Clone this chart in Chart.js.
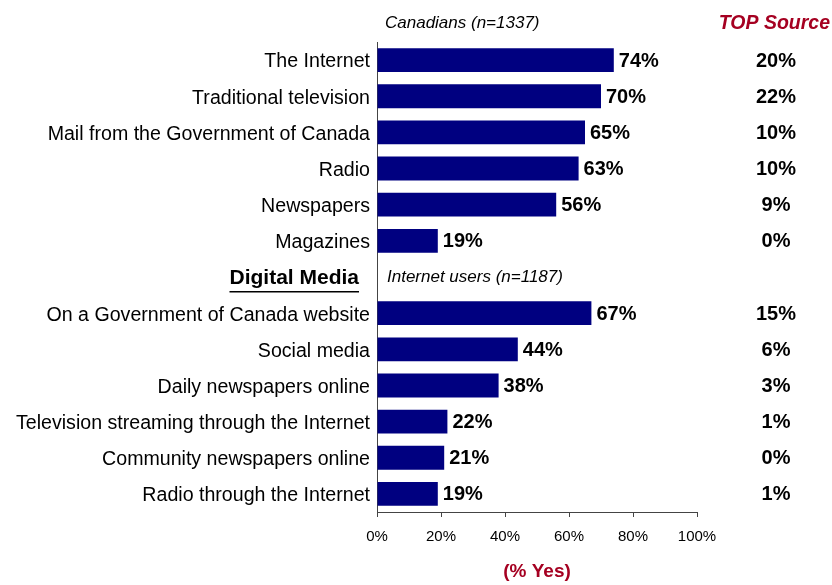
<!DOCTYPE html>
<html>
<head>
<meta charset="utf-8">
<script src="https://cdn.jsdelivr.net/npm/chart.js@4"></script>
<style>
  html, body { margin: 0; padding: 0; background: #fff; }
  #wrap { width: 832px; height: 585px; position: relative; }
</style>
</head>
<body>
<div id="wrap"><canvas id="mediaChart"></canvas></div>
<script>
const categories = [
  'The Internet',
  'Traditional television',
  'Mail from the Government of Canada',
  'Radio',
  'Newspapers',
  'Magazines',
  'Digital Media',
  'On a Government of Canada website',
  'Social media',
  'Daily newspapers online',
  'Television streaming through the Internet',
  'Community newspapers online',
  'Radio through the Internet',
];
const yesPct = [74, 70, 65, 63, 56, 19, null, 67, 44, 38, 22, 21, 19];
const topSource = [20, 22, 10, 10, 9, 0, null, 15, 6, 3, 1, 0, 1];
const xTicks = [0, 20, 40, 60, 80, 100];

const HEADER_ROW = 6;
const FONT = '"Liberation Sans", Arial, sans-serif';
const DARK_RED = '#a50021';

// bar values, the TOP Source column and the group headings
const extras = {
  id: 'extras',
  afterDatasetsDraw(chart) {
    const { ctx, chartArea } = chart;
    const yScale = chart.scales.y;
    const bars = chart.getDatasetMeta(0).data;
    ctx.save();
    ctx.fillStyle = '#000';
    ctx.textBaseline = 'middle';

    ctx.font = `bold 20px ${FONT}`;
    bars.forEach((bar, i) => {
      if (yesPct[i] === null) return;
      ctx.textAlign = 'left';
      ctx.fillText(yesPct[i] + '%', bar.x + 5, bar.y + 1);
    });

    topSource.forEach((v, i) => {
      if (v === null) return;
      ctx.textAlign = 'center';
      ctx.fillText(v + '%', 776, yScale.getPixelForValue(i) + 1);
    });

    // column headings
    ctx.font = `italic 17px ${FONT}`;
    ctx.textAlign = 'left';
    ctx.fillText('Canadians (n=1337)', chartArea.left + 8, 23);
    ctx.fillText('Internet users (n=1187)', chartArea.left + 10, yScale.getPixelForValue(HEADER_ROW));

    ctx.font = `bold italic 19.5px ${FONT}`;
    ctx.fillStyle = DARK_RED;
    ctx.textAlign = 'right';
    ctx.fillText('TOP Source', 830, 24);

    // underlined section heading
    const hy = yScale.getPixelForValue(HEADER_ROW);
    ctx.font = `bold 21px ${FONT}`;
    ctx.fillStyle = '#000';
    ctx.textAlign = 'right';
    const label = categories[HEADER_ROW];
    ctx.fillText(label, 359, hy + 1);
    const w = ctx.measureText(label).width;
    ctx.fillRect(359 - w, hy + 14, w, 1.5);
    ctx.restore();
  },
};

new Chart(document.getElementById('mediaChart'), {
  type: 'bar',
  data: {
    labels: categories,
    datasets: [{
      data: yesPct,
      backgroundColor: '#000080',
      barPercentage: 0.66,
      categoryPercentage: 1,
    }],
  },
  options: {
    indexAxis: 'y',
    responsive: true,
    maintainAspectRatio: false,
    animation: false,
    layout: { padding: { top: 42, right: 135, left: 0, bottom: 0 } },
    plugins: {
      legend: { display: false },
      tooltip: { enabled: false },
    },
    scales: {
      x: {
        min: 0,
        max: 100,
        afterFit: (s) => { s.height = 73; },
        afterBuildTicks: (s) => { s.ticks = xTicks.map((v) => ({ value: v })); },
        grid: { drawOnChartArea: false, drawTicks: true, tickLength: 5, color: '#444' },
        border: { display: true, color: '#444', width: 1 },
        ticks: {
          padding: 11,
          color: '#000',
          font: { family: FONT, size: 15 },
          callback: (v) => v + '%',
        },
        title: {
          display: true,
          text: '(% Yes)',
          color: DARK_RED,
          font: { family: FONT, size: 19, weight: 'bold' },
          padding: { top: 0, bottom: 2 },
        },
      },
      y: {
        afterFit: (s) => { s.width = 377; },
        grid: { display: false, drawTicks: false },
        border: { display: true, color: '#444', width: 1 },
        ticks: {
          padding: 7,
          labelOffset: 2,
          color: '#000',
          font: { family: FONT, size: 19.6 },
          callback(value, index) {
            return index === HEADER_ROW ? '' : this.getLabelForValue(value);
          },
        },
      },
    },
  },
  plugins: [extras],
});
</script>
</body>
</html>
